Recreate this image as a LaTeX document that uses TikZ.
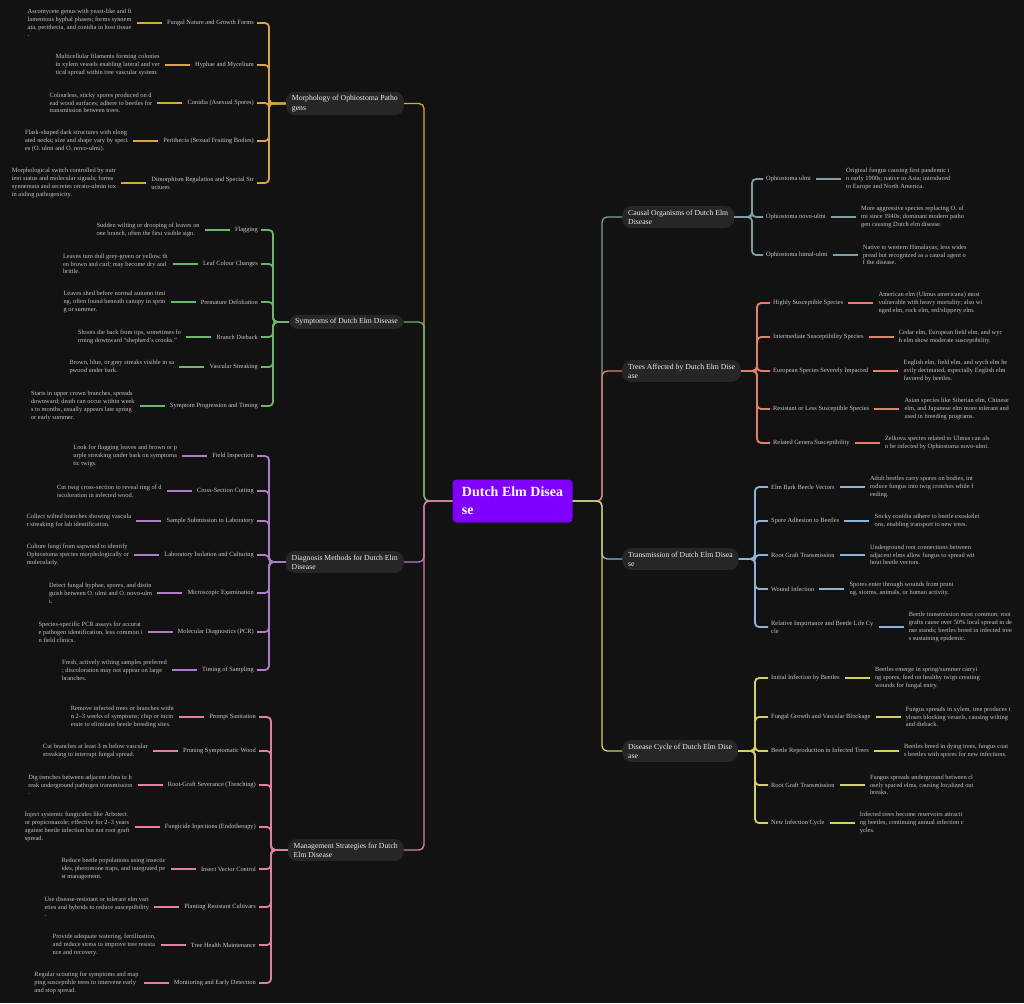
\documentclass[tikz,border=0pt]{standalone}
\usepackage{fontspec}
\setmainfont{Liberation Serif}
\usetikzlibrary{calc}
\definecolor{bg}{HTML}{121212}
\definecolor{morphC}{HTML}{D9A441}
\definecolor{sympC}{HTML}{6DB56D}
\definecolor{diagC}{HTML}{B07CC6}
\definecolor{mgmtC}{HTML}{E0809A}
\definecolor{causC}{HTML}{7F9FA6}
\definecolor{treeC}{HTML}{E4806E}
\definecolor{tranC}{HTML}{8DB3D8}
\definecolor{cyclC}{HTML}{D6CF63}
\definecolor{labC}{HTML}{CACACA}
\definecolor{leafC}{HTML}{C4C4C4}
\definecolor{topicC}{HTML}{262626}
\definecolor{topicT}{HTML}{EEEEEE}
\definecolor{rootC}{HTML}{7F00FF}
\tikzset{
  mmtrunk/.style={line width=1.3pt, rounded corners=5pt},
  mmconn/.style={line width=1.8pt, rounded corners=4pt},
  mmshort/.style={line width=1.8pt, shorten <=2pt, shorten >=2pt},
  mmlab/.style={text=labC, font=\fontsize{6.4}{7.8}\selectfont, align=left, inner xsep=3pt, inner ysep=1pt},
  mmleaf/.style={text=leafC, font=\fontsize{6.4}{7.8}\selectfont, align=left, inner xsep=3pt, inner ysep=1pt},
  mmtopic/.style={fill=topicC, text=topicT, rounded corners=9pt, font=\fontsize{7.7}{9.3}\selectfont, align=left, inner xsep=6pt, inner ysep=3.5pt},
  mmroot/.style={fill=rootC, text=white, rounded corners=4pt, font=\bfseries\fontsize{14}{18}\selectfont, align=left, minimum width=120pt, minimum height=43pt}
}
\newcommand\childL[7]{%
  \node[mmlab,anchor=east] (#1) at (#2,#3) {#4};
  \node[mmleaf,anchor=east] (#1t) at ([xshift=-29pt]#1.west) {#5};
  \draw[mmshort,draw=\bcol] (#1.west) -- (#1t.east);
  \draw[mmconn,draw=\bcol] (#6.west) -- (#6.west -| #7) |- (#1.east);
}
\newcommand\childR[7]{%
  \node[mmlab,anchor=west] (#1) at (#2,#3) {#4};
  \node[mmleaf,anchor=west] (#1t) at ([xshift=29pt]#1.east) {#5};
  \draw[mmshort,draw=\bcol] (#1.east) -- (#1t.west);
  \draw[mmconn,draw=\bcol] (#6.east) -- (#6.east -| #7) |- (#1.west);
}
\begin{document}
\begin{tikzpicture}[x=1pt,y=-1pt]
\fill[bg] (0,0) rectangle (1024,1003);
\useasboundingbox (0,0) rectangle (1024,1003);

\coordinate (tL) at (424,0);
\coordinate (tR) at (602,0);
\coordinate (bM) at (269,0);
\coordinate (bS) at (273,0);
\coordinate (bD) at (269,0);
\coordinate (bG) at (271,0);
\coordinate (bC) at (752,0);
\coordinate (bT) at (757,0);
\coordinate (bX) at (755,0);
\coordinate (bY) at (755,0);

\node[mmroot] (root) at (512.5,501) {Dutch Elm Disea\\se};
\node[mmtopic,anchor=east] (morph) at (404,103.5) {Morphology of Ophiostoma Patho\\gens};
\node[mmtopic,anchor=east] (symp) at (404,322) {Symptoms of Dutch Elm Disease};
\node[mmtopic,anchor=east] (diag) at (404,562) {Diagnosis Methods for Dutch Elm\\Disease};
\node[mmtopic,anchor=east] (mgmt) at (404,850) {Management Strategies for Dutch\\Elm Disease};
\node[mmtopic,anchor=west] (caus) at (622,217) {Causal Organisms of Dutch Elm\\Disease};
\node[mmtopic,anchor=west] (tree) at (622,371) {Trees Affected by Dutch Elm Dise\\ase};
\node[mmtopic,anchor=west] (tran) at (622,559) {Transmission of Dutch Elm Disea\\se};
\node[mmtopic,anchor=west] (cycl) at (622,751) {Disease Cycle of Dutch Elm Dise\\ase};

% root edges
\draw[mmtrunk,draw=morphC] (root.west) -- (root.west -| tL) |- (morph.east);
\draw[mmtrunk,draw=sympC] (root.west) -- (root.west -| tL) |- (symp.east);
\draw[mmtrunk,draw=diagC] (root.west) -- (root.west -| tL) |- (diag.east);
\draw[mmtrunk,draw=mgmtC] (root.west) -- (root.west -| tL) |- (mgmt.east);
\draw[mmtrunk,draw=causC] (root.east) -- (root.east -| tR) |- (caus.west);
\draw[mmtrunk,draw=treeC] (root.east) -- (root.east -| tR) |- (tree.west);
\draw[mmtrunk,draw=tranC] (root.east) -- (root.east -| tR) |- (tran.west);
\draw[mmtrunk,draw=cyclC] (root.east) -- (root.east -| tR) |- (cycl.west);

% Morphology
\def\bcol{morphC}
\childL{m1}{257}{23}{Fungal Nature and Growth Forms}{Ascomycete genus with yeast-like and fi\\lamentous hyphal phases; forms synnem\\ata, perithecia, and conidia in host tissue\\.}{morph}{bM}
\childL{m2}{257}{65}{Hyphae and Mycelium}{Multicellular filaments forming colonies\\in xylem vessels enabling lateral and ver\\tical spread within tree vascular system.}{morph}{bM}
\childL{m3}{257}{103}{Conidia (Asexual Spores)}{Colourless, sticky spores produced on d\\ead wood surfaces; adhere to beetles for\\transmission between trees.}{morph}{bM}
\childL{m4}{257}{141}{Perithecia (Sexual Fruiting Bodies)}{Flask-shaped dark structures with elong\\ated necks; size and shape vary by speci\\es (O. ulmi and O. novo-ulmi).}{morph}{bM}
\childL{m5}{257}{183}{Dimorphism Regulation and Special Str\\uctures}{Morphological switch controlled by nutr\\ient status and molecular signals; forms\\synnemata and secretes cerato-ulmin tox\\in aiding pathogenicity.}{morph}{bM}

% Symptoms
\def\bcol{sympC}
\childL{s1}{261}{230}{Flagging}{Sudden wilting or drooping of leaves on\\one branch, often the first visible sign.}{symp}{bS}
\childL{s2}{261}{264}{Leaf Colour Changes}{Leaves turn dull grey-green or yellow, th\\en brown and curl; may become dry and\\brittle.}{symp}{bS}
\childL{s3}{261}{302}{Premature Defoliation}{Leaves shed before normal autumn timi\\ng, often found beneath canopy in sprin\\g or summer.}{symp}{bS}
\childL{s4}{261}{337}{Branch Dieback}{Shoots die back from tips, sometimes fo\\rming downward ``shepherd's crooks.''}{symp}{bS}
\childL{s5}{261}{367}{Vascular Streaking}{Brown, blue, or grey streaks visible in sa\\pwood under bark.}{symp}{bS}
\childL{s6}{261}{406}{Symptom Progression and Timing}{Starts in upper crown branches, spreads\\downward; death can occur within week\\s to months, usually appears late spring\\or early summer.}{symp}{bS}

% Diagnosis
\def\bcol{diagC}
\childL{d1}{257}{456}{Field Inspection}{Look for flagging leaves and brown or p\\urple streaking under bark on symptoma\\tic twigs.}{diag}{bD}
\childL{d2}{257}{491}{Cross-Section Cutting}{Cut twig cross-section to reveal ring of d\\iscoloration in infected wood.}{diag}{bD}
\childL{d3}{257}{521}{Sample Submission to Laboratory}{Collect wilted branches showing vascula\\r streaking for lab identification.}{diag}{bD}
\childL{d4}{257}{555}{Laboratory Isolation and Culturing}{Culture fungi from sapwood to identify\\Ophiostoma species morphologically or\\molecularly.}{diag}{bD}
\childL{d5}{257}{593}{Microscopic Examination}{Detect fungal hyphae, spores, and distin\\guish between O. ulmi and O. novo-ulm\\i.}{diag}{bD}
\childL{d6}{257}{632}{Molecular Diagnostics (PCR)}{Species-specific PCR assays for accurat\\e pathogen identification, less common i\\n field clinics.}{diag}{bD}
\childL{d7}{257}{670}{Timing of Sampling}{Fresh, actively wilting samples preferred\\; discoloration may not appear on large\\branches.}{diag}{bD}

% Management
\def\bcol{mgmtC}
\childL{g1}{259}{717}{Prompt Sanitation}{Remove infected trees or branches withi\\n 2–3 weeks of symptoms; chip or incin\\erate to eliminate beetle breeding sites.}{mgmt}{bG}
\childL{g2}{259}{751}{Pruning Symptomatic Wood}{Cut branches at least 3 m below vascular\\streaking to interrupt fungal spread.}{mgmt}{bG}
\childL{g3}{259}{785}{Root-Graft Severance (Trenching)}{Dig trenches between adjacent elms to b\\reak underground pathogen transmission\\.}{mgmt}{bG}
\childL{g4}{259}{827}{Fungicide Injections (Endotherapy)}{Inject systemic fungicides like Arbotect\\or propiconazole; effective for 2–3 years\\against beetle infection but not root graft\\spread.}{mgmt}{bG}
\childL{g5}{259}{869}{Insect Vector Control}{Reduce beetle populations using insectic\\ides, pheromone traps, and integrated pe\\st management.}{mgmt}{bG}
\childL{g6}{259}{907}{Planting Resistant Cultivars}{Use disease-resistant or tolerant elm vari\\eties and hybrids to reduce susceptibility\\.}{mgmt}{bG}
\childL{g7}{259}{945}{Tree Health Maintenance}{Provide adequate watering, fertilization,\\and reduce stress to improve tree resista\\nce and recovery.}{mgmt}{bG}
\childL{g8}{259}{983}{Monitoring and Early Detection}{Regular scouting for symptoms and map\\ping susceptible trees to intervene early\\and stop spread.}{mgmt}{bG}

% Causal
\def\bcol{causC}
\childR{c1}{763}{179}{Ophiostoma ulmi}{Original fungus causing first pandemic i\\n early 1900s; native to Asia; introduced\\to Europe and North America.}{caus}{bC}
\childR{c2}{763}{217}{Ophiostoma novo-ulmi}{More aggressive species replacing O. ul\\mi since 1940s; dominant modern patho\\gen causing Dutch elm disease.}{caus}{bC}
\childR{c3}{763}{255}{Ophiostoma himal-ulmi}{Native to western Himalayas; less wides\\pread but recognized as a causal agent o\\f the disease.}{caus}{bC}

% Trees
\def\bcol{treeC}
\childR{t1}{770}{303}{Highly Susceptible Species}{American elm (Ulmus americana) most\\vulnerable with heavy mortality; also wi\\nged elm, rock elm, red/slippery elm.}{tree}{bT}
\childR{t2}{770}{337}{Intermediate Susceptibility Species}{Cedar elm, European field elm, and wyc\\h elm show moderate susceptibility.}{tree}{bT}
\childR{t3}{770}{371}{European Species Severely Impacted}{English elm, field elm, and wych elm he\\avily decimated, especially English elm\\favored by beetles.}{tree}{bT}
\childR{t4}{770}{409}{Resistant or Less Susceptible Species}{Asian species like Siberian elm, Chinese\\elm, and Japanese elm more tolerant and\\used in breeding programs.}{tree}{bT}
\childR{t5}{770}{443}{Related Genera Susceptibility}{Zelkova species related to Ulmus can als\\o be infected by Ophiostoma novo-ulmi.}{tree}{bT}

% Transmission
\def\bcol{tranC}
\childR{x1}{768}{487}{Elm Bark Beetle Vectors}{Adult beetles carry spores on bodies, int\\roduce fungus into twig crotches while f\\eeding.}{tran}{bX}
\childR{x2}{768}{521}{Spore Adhesion to Beetles}{Sticky conidia adhere to beetle exoskelet\\ons, enabling transport to new trees.}{tran}{bX}
\childR{x3}{768}{555}{Root Graft Transmission}{Underground root connections between\\adjacent elms allow fungus to spread wit\\hout beetle vectors.}{tran}{bX}
\childR{x4}{768}{589}{Wound Infection}{Spores enter through wounds from pruni\\ng, storms, animals, or human activity.}{tran}{bX}
\childR{x5}{768}{627}{Relative Importance and Beetle Life Cy\\cle}{Beetle transmission most common; root\\grafts cause over 50\% local spread in de\\nse stands; beetles breed in infected tree\\s sustaining epidemic.}{tran}{bX}

% Disease cycle
\def\bcol{cyclC}
\childR{y1}{768}{678}{Initial Infection by Beetles}{Beetles emerge in spring/summer carryi\\ng spores, feed on healthy twigs creating\\wounds for fungal entry.}{cycl}{bY}
\childR{y2}{768}{717}{Fungal Growth and Vascular Blockage}{Fungus spreads in xylem, tree produces t\\yloses blocking vessels, causing wilting\\and dieback.}{cycl}{bY}
\childR{y3}{768}{751}{Beetle Reproduction in Infected Trees}{Beetles breed in dying trees, fungus coat\\s beetles with spores for new infections.}{cycl}{bY}
\childR{y4}{768}{785}{Root Graft Transmission}{Fungus spreads underground between cl\\osely spaced elms, causing localized out\\breaks.}{cycl}{bY}
\childR{y5}{768}{823}{New Infection Cycle}{Infected trees become reservoirs attracti\\ng beetles, continuing annual infection c\\ycles.}{cycl}{bY}
\end{tikzpicture}
\end{document}
